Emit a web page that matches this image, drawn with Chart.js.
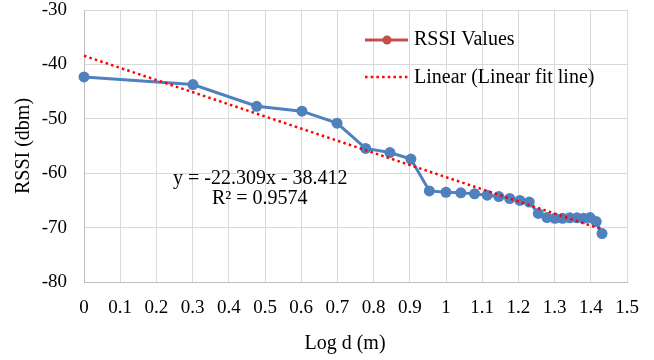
<!DOCTYPE html>
<html>
<head>
<meta charset="utf-8">
<script src="https://cdn.jsdelivr.net/npm/chart.js@4.4.1/dist/chart.umd.min.js"></script>
<style>
  html, body { margin: 0; padding: 0; background: #ffffff; }
  #wrap { width: 654px; height: 360px; position: relative; }
</style>
</head>
<body>
<div id="wrap"><canvas id="c" width="654" height="360"></canvas></div>
<script>
// ---- data ----
const logD = [0, 0.301, 0.477, 0.602, 0.699, 0.778, 0.845, 0.903, 0.954, 1.0,
  1.041, 1.079, 1.114, 1.146, 1.176, 1.204, 1.230, 1.255, 1.279, 1.301,
  1.322, 1.342, 1.362, 1.380, 1.398, 1.415, 1.431];
const rssi = [-42.3, -43.7, -47.7, -48.6, -50.8, -55.45, -56.2, -57.4, -63.25, -63.5,
  -63.6, -63.8, -64.05, -64.3, -64.65, -65.0, -65.3, -67.4, -68.15, -68.3,
  -68.3, -68.2, -68.2, -68.3, -68.15, -68.9, -71.1];
const fitSlope = -22.309;
const fitIntercept = -38.412;
const fitText = ["y = -22.309x - 38.412", "R\u00B2 = 0.9574"];
const seriesNames = ["RSSI Values", "Linear (Linear fit line)"];
const xTitle = "Log d (m)";
const yTitle = "RSSI (dbm)";

const rssiPoints = logD.map((x, i) => ({ x: x, y: rssi[i] }));
const fitEnds = [logD[0], logD[logD.length - 1]];
const fitPoints = fitEnds.map(x => ({ x: x, y: fitSlope * x + fitIntercept }));

const FONT = "'Liberation Serif', 'Times New Roman', serif";
const BLUE = '#4F81BD';
const RED = '#FF0000';
const LEG = '#C0504D';
const AREA = { left: 84, top: 10, right: 627, bottom: 282 };

const overlay = {
  id: 'overlay',
  afterDraw(chart) {
    const ctx = chart.ctx;
    const area = chart.chartArea;
    ctx.save();
    ctx.fillStyle = '#000000';
    ctx.textBaseline = 'middle';
    ctx.font = '20px ' + FONT;
    ctx.textAlign = 'center';
    ctx.fillText(xTitle, 345, 344);
    ctx.save();
    ctx.translate(24, (area.top + area.bottom) / 2);
    ctx.rotate(-Math.PI / 2);
    ctx.fillText(yTitle, 0, 0);
    ctx.restore();
    ctx.textAlign = 'left';
    ctx.fillText(fitText[0], 173, 179);
    ctx.fillText(fitText[1], 212, 199);
    // legend
    ctx.strokeStyle = LEG;
    ctx.lineWidth = 3;
    ctx.beginPath();
    ctx.moveTo(365, 40); ctx.lineTo(408, 40);
    ctx.stroke();
    ctx.fillStyle = LEG;
    ctx.beginPath();
    ctx.arc(387, 40, 4.5, 0, Math.PI * 2);
    ctx.fill();
    ctx.strokeStyle = RED;
    ctx.lineWidth = 2.5;
    ctx.setLineDash([2.5, 3.2]);
    ctx.beginPath();
    ctx.moveTo(365, 77); ctx.lineTo(408, 77);
    ctx.stroke();
    ctx.setLineDash([]);
    ctx.fillStyle = '#000000';
    ctx.fillText(seriesNames[0], 414, 40);
    ctx.fillText(seriesNames[1], 414, 78);
    ctx.restore();
  }
};

const chart = new Chart(document.getElementById('c'), {
  type: 'scatter',
  data: {
    datasets: [
      {
        label: seriesNames[1],
        data: fitPoints,
        showLine: true,
        borderColor: RED,
        borderWidth: 2.5,
        borderDash: [2.5, 3.2],
        pointRadius: 0,
        fill: false,
        clip: false,
        order: 0
      },
      {
        label: seriesNames[0],
        data: rssiPoints,
        showLine: true,
        borderColor: BLUE,
        backgroundColor: BLUE,
        borderWidth: 3,
        pointRadius: 5.5,
        pointBackgroundColor: BLUE,
        pointBorderColor: BLUE,
        pointBorderWidth: 0,
        fill: false,
        clip: false,
        order: 1
      }
    ]
  },
  options: {
    responsive: false,
    animation: false,
    devicePixelRatio: 1,
    layout: { padding: { left: 0, right: 27, top: 10, bottom: 0 } },
    plugins: { legend: { display: false }, tooltip: { enabled: false } },
    scales: {
      x: {
        type: 'linear',
        min: 0, max: 1.5,
        afterFit(scale) { scale.height = 78; scale.paddingLeft = 0; scale.paddingRight = 0; },
        grid: { color: '#D9D9D9', lineWidth: 1, drawTicks: false },
        border: { color: '#BFBFBF', width: 1 },
        ticks: {
          stepSize: 0.1,
          padding: 15,
          color: '#000000',
          font: { family: FONT, size: 19 },
          maxRotation: 0,
          autoSkip: false,
          callback: v => String(Math.round(v * 10) / 10)
        }
      },
      y: {
        type: 'linear',
        min: -80, max: -30,
        afterFit(scale) { scale.width = 84; scale.paddingTop = 0; scale.paddingBottom = 0; },
        grid: { color: '#D9D9D9', lineWidth: 1, drawTicks: false },
        border: { color: '#BFBFBF', width: 1 },
        ticks: {
          stepSize: 10,
          padding: 17,
          color: '#000000',
          font: { family: FONT, size: 19 }
        }
      }
    }
  },
  plugins: [overlay]
});

// nudge the layout padding so the plot area lands where the reference has it
for (let i = 0; i < 3; i++) {
  const a = chart.chartArea;
  const p = chart.options.layout.padding;
  const dTop = Math.round(a.top - AREA.top);
  const dBottom = Math.round(a.bottom - AREA.bottom);
  const dLeft = Math.round(a.left - AREA.left);
  const dRight = Math.round(a.right - AREA.right);
  if (!dTop && !dBottom && !dLeft && !dRight) break;
  p.top -= dTop;
  p.bottom += dBottom;
  p.left -= dLeft;
  p.right += dRight;
  chart.update();
}
</script>
</body>
</html>
